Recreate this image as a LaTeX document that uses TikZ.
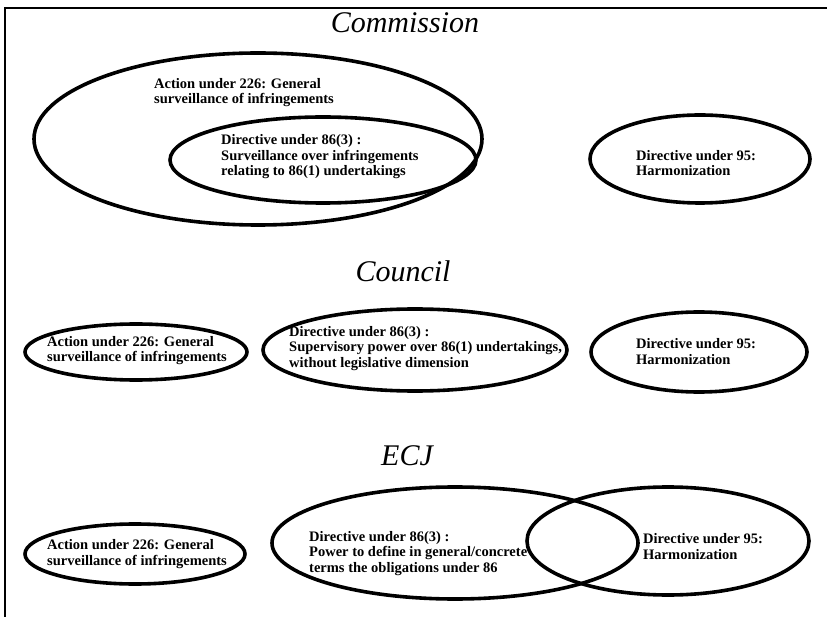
\documentclass[tikz,border=0pt]{standalone}
\usepackage{fontspec}
\setmainfont{Liberation Serif}
\usetikzlibrary{shapes.geometric}
\begin{document}
\begin{tikzpicture}[x=1pt,y=-1pt,
  bubble/.style={draw,ellipse,line width=3.6pt,inner sep=0pt,minimum width=2*#1},
  title/.style={anchor=base,inner sep=0pt,font=\fontsize{30}{32}\selectfont\itshape},
  % multi-line labels are placed by the baseline of their last line
  body/.style={anchor=base west,align=left,inner sep=0pt,
    font=\fontsize{14.5}{15.5}\selectfont\bfseries},
  frame/.style={line width=1.8pt}]
\useasboundingbox (0,0) rectangle (827,617);
% open frame: top and left edges
\coordinate (fa) at (5,617);
\coordinate (fb) at (5,8);
\coordinate (fc) at (827,8);
\draw[frame] (fa) -- (fb) -- (fc);

% ---- Commission ----
\node[title] (tcom) at (405,33) {Commission};
\node[bubble=224pt,minimum height=172pt] (com226) at (258,139) {};
\node[bubble=153pt,minimum height=86pt] (com86) at (323,160) {};
\node[bubble=110pt,minimum height=88pt] (com95) at (700,159) {};
\node[body] (lcom226) at (154,104) {Action under 226: General\\surveillance of infringements};
\node[body] (lcom86) at (221,176) {Directive under 86(3) :\\Surveillance over infringements\\relating to 86(1) undertakings};
\node[body] (lcom95) at (636,176) {Directive under 95:\\Harmonization};

% ---- Council ----
\node[title] (tcou) at (403,282) {Council};
\node[bubble=111pt,minimum height=56pt] (cou226) at (136,352) {};
\node[bubble=152pt,minimum height=82pt] (cou86) at (415,350) {};
\node[bubble=108pt,minimum height=80pt] (cou95) at (699,352) {};
\node[body] (lcou226) at (47,362) {Action under 226: General\\surveillance of infringements};
\node[body] (lcou86) at (289,367) {Directive under 86(3) :\\Supervisory power over 86(1) undertakings,\\without legislative dimension};
\node[body] (lcou95) at (636,364) {Directive under 95:\\Harmonization};

% ---- ECJ ----
\node[title] (tecj) at (407,465) {ECJ};
\node[bubble=110pt,minimum height=60pt] (ecj226) at (135,554) {};
\node[bubble=183pt,minimum height=112pt] (ecj86) at (455,543) {};
\node[bubble=141pt,minimum height=108pt] (ecj95) at (668,541) {};
\node[body] (lecj226) at (47,565) {Action under 226: General\\surveillance of infringements};
\node[body] (lecj86) at (309,572) {Directive under 86(3) :\\Power to define in general/concrete\\terms the obligations under 86};
\node[body] (lecj95) at (643,559) {Directive under 95:\\Harmonization};
\end{tikzpicture}
\end{document}
